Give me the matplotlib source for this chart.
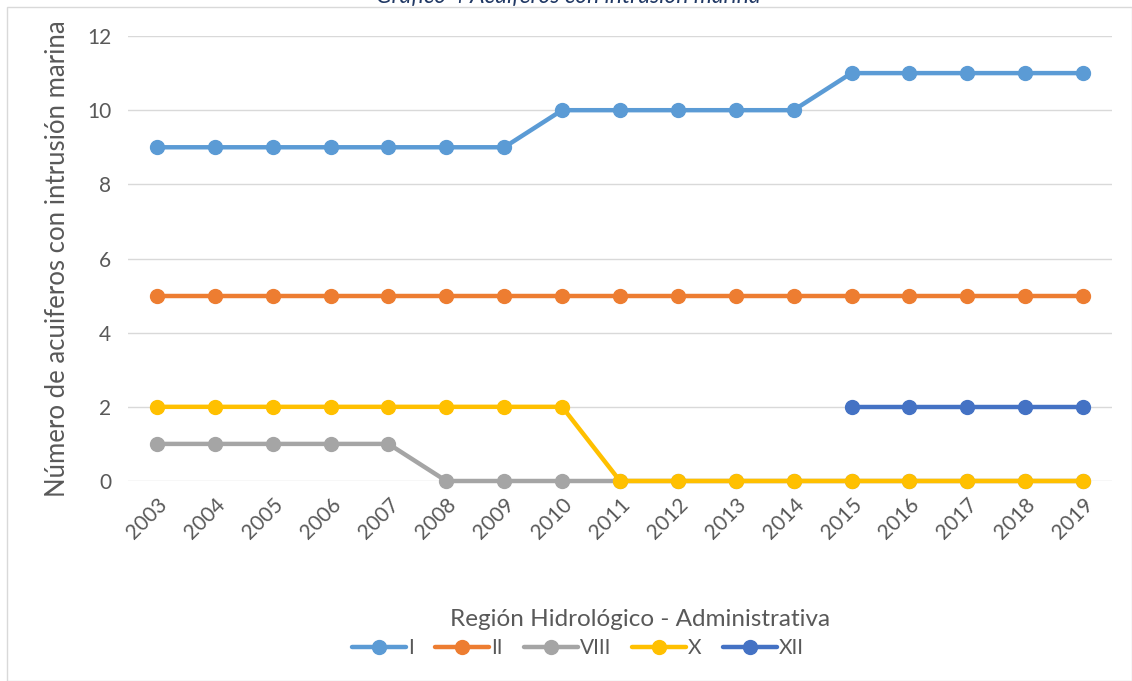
import numpy as np
import matplotlib.pyplot as plt
from matplotlib.patches import Rectangle

plt.rcParams['font.family'] = ['Lato', 'DejaVu Sans']

# años y series por región hidrológico-administrativa
years = [str(y) for y in range(2003, 2020)]
region_I = [9, 9, 9, 9, 9, 9, 9, 10, 10, 10, 10, 10, 11, 11, 11, 11, 11]
region_II = [5] * 17
region_VIII = [1, 1, 1, 1, 1, 0, 0, 0, 0, 0, 0, 0, 0, 0, 0, 0, 0]
region_X = [2, 2, 2, 2, 2, 2, 2, 2, 0, 0, 0, 0, 0, 0, 0, 0, 0]
region_XII = [np.nan] * 12 + [2, 2, 2, 2, 2]

names = ["I", "II", "VIII", "X", "XII"]
series = [region_I, region_II, region_VIII, region_X, region_XII]
colors = ["#5B9BD5", "#ED7D31", "#A5A5A5", "#FFC000", "#4472C4"]

fig = plt.figure(figsize=(11.32, 6.81), dpi=100)
ax = fig.add_axes([0.1131, 0.2937, 0.8692, 0.6534])

x = np.arange(len(years))
for name, vals, c in zip(names, series, colors):
    ax.plot(x, vals, color=c, lw=3.2, marker="o", ms=10, label=name,
            solid_capstyle="round", clip_on=False)

ax.set_xlim(-0.5, len(years) - 0.5)
ax.set_ylim(0, 12)
ax.set_yticks(range(0, 13, 2))
ax.set_xticks(x)
ax.set_xticklabels(years, rotation=45, ha="right", rotation_mode="anchor")
ax.tick_params(axis="both", length=0, labelsize=15, labelcolor="#595959")
ax.tick_params(axis="y", pad=12)
ax.tick_params(axis="x", pad=10)
ax.grid(axis="y", color="#D9D9D9", lw=1)
ax.set_axisbelow(True)
for s in ax.spines.values():
    s.set_visible(False)
ax.set_ylabel("Número de acuiferos con intrusión marina", fontsize=18.5,
              color="#595959", labelpad=12)

# título del eje x
fig.text(640 / 1132, 1 - 620 / 681, "Región Hidrológico - Administrativa",
         ha="center", va="center", fontsize=17.5, color="#595959")

# título recortado en la parte superior (como en la imagen original)
fig.text(568 / 1132, 1 - 3 / 681, "Gráfico 4 Acuíferos con intrusión marina",
         ha="center", va="baseline", fontsize=16.5, style="italic",
         color="#203864")

fig.patches.append(Rectangle((7 / 1132, 0), 1 - 7 / 1132, 1 - 7 / 681,
                             transform=fig.transFigure, fill=False,
                             edgecolor="#D9D9D9", lw=1))

leg = fig.legend(loc="center", bbox_to_anchor=(578 / 1132, 1 - 648 / 681),
                 ncol=5, frameon=False, fontsize=15, handlelength=2.6,
                 columnspacing=1.0, handletextpad=0.1)
for t in leg.get_texts():
    t.set_color("#595959")

fig.savefig("out.png", dpi=100)
